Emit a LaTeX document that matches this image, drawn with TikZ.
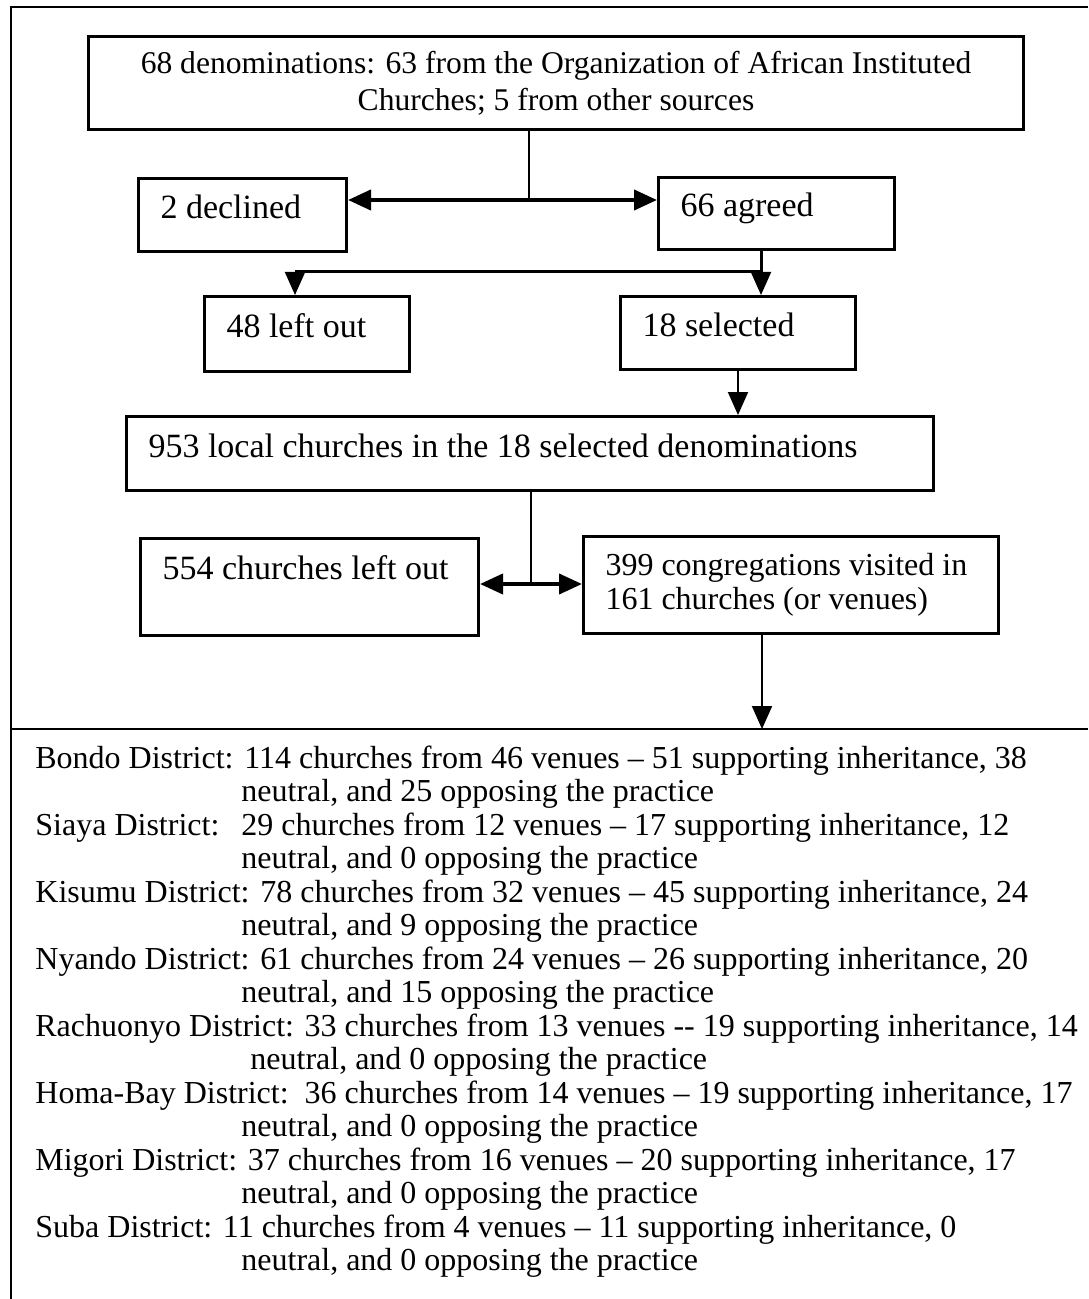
\documentclass[tikz,border=0pt]{standalone}
\usepackage{fontspec}
\setmainfont{Liberation Serif}
\usetikzlibrary{arrows.meta}
\begin{document}
\begin{tikzpicture}[x=0.5pt,y=-0.5pt,
  frame/.style={line width=1.2pt},
  box/.style={draw, line width=1.5pt, inner ysep=0pt, inner xsep=11pt,
    align=flush left, anchor=north west, font=\fontsize{17}{20}\selectfont,
    execute at begin node={\spaceskip=0pt\xspaceskip=0pt\relax}},
  smallbox/.style={box, font=\fontsize{16}{17}\selectfont},
  conn/.style={line width=1pt},
  arr/.style={conn, -{Triangle[length=11.5pt,width=10pt]}},
  darr/.style={line width=2pt, -{Triangle[length=11.5pt,width=10pt]}},
]
\useasboundingbox (0,0) rectangle (1088,1299);

% outer frame and divider above the district list
\draw[frame] (1088,7) -- (11,7) -- (11,1299);
\coordinate (divL) at (11,729);
\coordinate (divR) at (1088,729);
\draw[frame] (divL) -- (divR);

% flow boxes
\node[box, align=flush center, text width=445.5pt, minimum height=46.5pt,
  font=\fontsize{15.8}{18.5}\selectfont] (top) at (87,35)
  {68 denominations: 63 from the Organization of African Instituted\\Churches; 5 from other sources};
\node[box, text width=82pt, text height=20pt, text depth=16.5pt] (declined) at (137,177) {2 declined};
\node[box, text width=96pt, text height=19.5pt, text depth=16.5pt] (agreed) at (657,176) {66 agreed};
\node[box, text width=80.5pt, text height=20.5pt, text depth=17pt] (leftout) at (203,295) {48 left out};
\node[box, text width=95.5pt, text height=20pt, text depth=16.5pt] (selected) at (619,295) {18 selected};
\node[box, text width=381.5pt, text height=20.5pt, text depth=16.5pt] (local) at (125,415)
  {953 local churches in the 18 selected denominations};
\node[box, text width=147pt, text height=20.5pt, text depth=28pt] (churchesout) at (139,537)
  {554 churches left out};
\node[smallbox, text width=185.5pt, minimum height=48.5pt] (visited) at (582,535)
  {399 congregations visited in\\161 churches (or venues)};

% connectors
\coordinate (j1) at (529,200);
\draw[conn] (j1 |- top.south) -- (j1);
\draw[darr] (j1) -- (declined.east |- j1);
\draw[darr] (j1) -- (agreed.west |- j1);

\coordinate (j2) at (761,272);
\coordinate (j2l) at (295,272);
\draw[line width=1.5pt] (j2 |- agreed.south) -- (j2) -- (j2l);
\draw[arr] (j2l) -- (j2l |- leftout.north);
\draw[arr] (j2) -- (j2 |- selected.north);

\draw[arr] (selected.south) -- (selected.south |- local.north);

\coordinate (j3) at (531,584);
\draw[conn] (j3 |- local.south) -- (j3);
\draw[darr] (j3) -- (churchesout.east |- j3);
\draw[darr] (j3) -- (visited.west |- j3);

\coordinate (vdown) at (762,729);
\draw[arr] (vdown |- visited.south) -- (vdown);

% district summary
\node[anchor=base west, inner sep=0pt, font=\fontsize{16}{16.8}\selectfont] (districts) at (35,768)
{\vtop{\hsize=540pt \parindent=0pt \parskip=0pt \baselineskip=16.75pt
Bondo District: 114 churches from 46 venues – 51 supporting inheritance, 38\par
\hspace*{103pt}neutral, and 25 opposing the practice\par
\makebox[103pt][l]{Siaya District:}29 churches from 12 venues – 17 supporting inheritance, 12\par
\hspace*{103pt}neutral, and 0 opposing the practice\par
Kisumu District: 78 churches from 32 venues – 45 supporting inheritance, 24\par
\hspace*{103pt}neutral, and 9 opposing the practice\par
Nyando District: 61 churches from 24 venues – 26 supporting inheritance, 20\par
\hspace*{103pt}neutral, and 15 opposing the practice\par
Rachuonyo District: 33 churches from 13 venues -{}- 19 supporting inheritance, 14\par
\hspace*{107.5pt}neutral, and 0 opposing the practice\par
Homa-Bay District:\ \ 36 churches from 14 venues – 19 supporting inheritance, 17\par
\hspace*{103pt}neutral, and 0 opposing the practice\par
Migori District: 37 churches from 16 venues – 20 supporting inheritance, 17\par
\hspace*{103pt}neutral, and 0 opposing the practice\par
Suba District: 11 churches from 4 venues – 11 supporting inheritance, 0\par
\hspace*{103pt}neutral, and 0 opposing the practice\par}};
\end{tikzpicture}
\end{document}
